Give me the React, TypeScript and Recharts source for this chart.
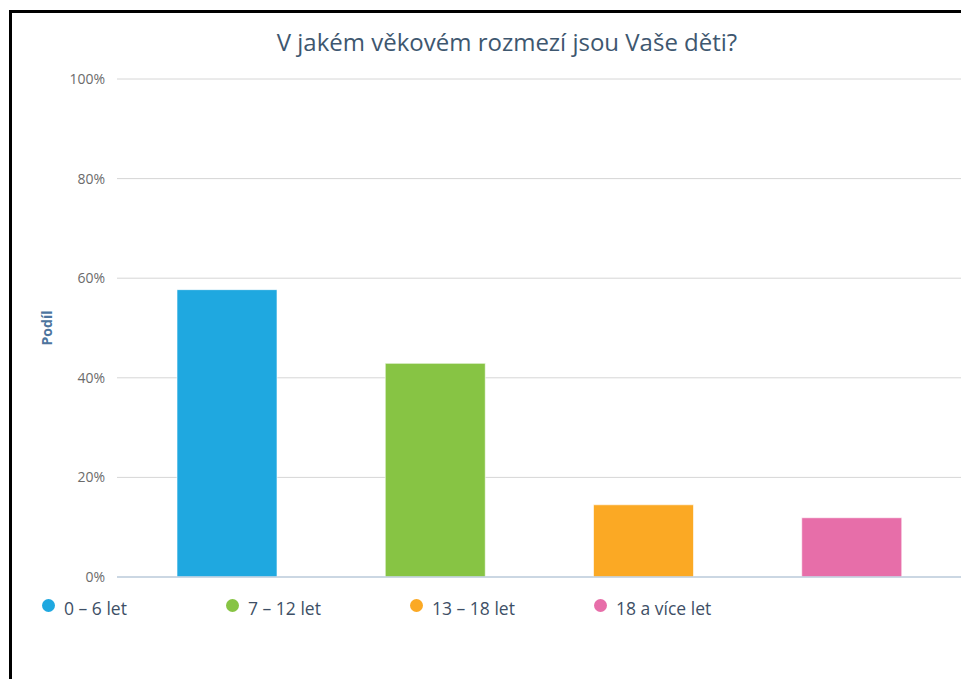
import React from 'react';
import { BarChart, Bar, Cell, XAxis, YAxis, CartesianGrid, Label } from 'recharts';

const categories = ['0 – 6 let', '7 – 12 let', '13 – 18 let', '18 a více let'];
const shares = [57.7, 42.9, 14.5, 11.9];
const colors = ['#1fa8e0', '#87c444', '#fba924', '#e76ea9'];
const yTicks = [0, 20, 40, 60, 80, 100];

const data = categories.map((name, i) => ({ name, value: shares[i] }));

const FONT = '"Open Sans", "DejaVu Sans", sans-serif';

const LegendContent = () => (
  <div style={{ display: 'flex', fontFamily: FONT, fontSize: 17.5, color: '#3e4f66' }}>
    {categories.map((c, i) => (
      <div key={c} style={{ width: 184, display: 'flex', alignItems: 'center' }}>
        <span
          style={{
            display: 'inline-block',
            width: 13,
            height: 13,
            borderRadius: 7,
            background: colors[i],
            marginRight: 9,
            marginTop: -6,
          }}
        />
        <span>{c}</span>
      </div>
    ))}
  </div>
);

const AxisTitle = (props: any) => {
  const { viewBox } = props;
  const cy = viewBox.y + viewBox.height / 2;
  return (
    <text
      x={46}
      y={cy}
      transform={`rotate(-90, 46, ${cy})`}
      textAnchor="middle"
      dominantBaseline="central"
      fill="#4d759e"
      fontSize={14}
      fontWeight="bold"
      fontFamily={FONT}
    >
      Podíl
    </text>
  );
};

const App = () => {
  return (
    <div style={{ position: 'absolute', left: 0, top: 0, width: 961, height: 679, overflow: 'hidden', background: '#fff' }}>
      <div
        style={{
          position: 'absolute',
          left: 9,
          top: 10,
          width: 1000,
          height: 700,
          borderTop: '3px solid #000',
          borderLeft: '3px solid #000',
        }}
      />
      <div
        style={{
          position: 'absolute',
          left: 12,
          top: 25,
          width: 990,
          textAlign: 'center',
          fontFamily: FONT,
          fontSize: 24,
          color: '#3e576f',
        }}
      >
        V jakém věkovém rozmezí jsou Vaše děti?
      </div>
      <div style={{ position: 'absolute', left: 0, top: 0 }}>
        <BarChart
          width={961}
          height={679}
          data={data}
          margin={{ top: 79, right: 0, bottom: 72, left: 0 }}
          barCategoryGap={0}
        >
          <CartesianGrid vertical={false} stroke="#d6d6d6" />
          <XAxis
            dataKey="name"
            padding={{ left: 6, right: 5 }}
            axisLine={{ stroke: '#c0d0e0', strokeWidth: 1.5 }}
            tickLine={{ stroke: '#c0d0e0' }}
            tickSize={6}
            tick={false}
            height={30}
          />
          <YAxis
            width={117}
            domain={[0, 100]}
            ticks={yTicks}
            tickFormatter={(v) => `${v}%`}
            axisLine={false}
            tickLine={false}
            tickSize={6}
            tickMargin={6}
            tick={{ fill: '#6b6b6b', fontSize: 14, fontFamily: FONT }}
          >
            <Label content={<AxisTitle />} />
          </YAxis>
          <Bar dataKey="value" barSize={100} isAnimationActive={false} stroke="#ffffff" strokeOpacity={0.6}>
            {data.map((d, i) => (
              <Cell key={d.name} fill={colors[i]} />
            ))}
          </Bar>
        </BarChart>
      </div>
      <div style={{ position: 'absolute', left: 42, top: 596 }}>
        <LegendContent />
      </div>
    </div>
  );
};

export default App;
